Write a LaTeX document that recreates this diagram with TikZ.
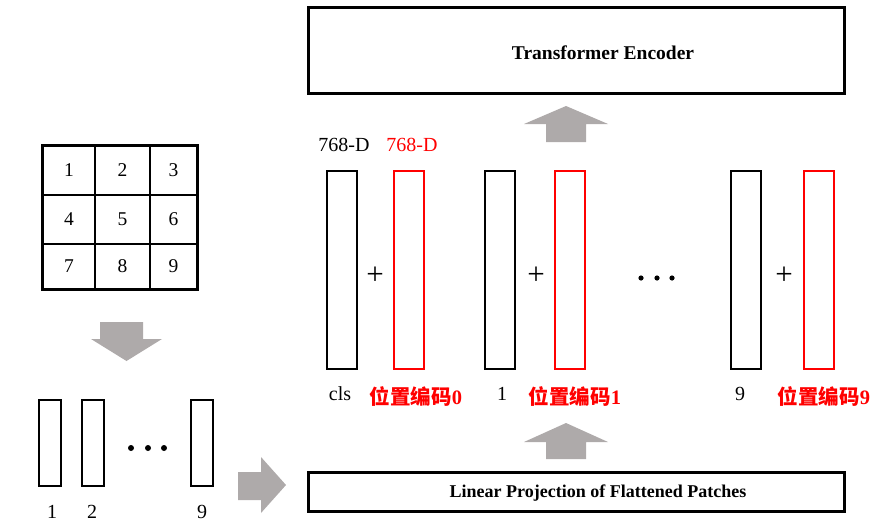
\documentclass[tikz,border=0pt]{standalone}
\usepackage{fontspec}
\setmainfont{Liberation Serif}
\newfontfamily\cjk{Noto Sans CJK SC}
\definecolor{agray}{RGB}{174,170,170}
\definecolor{pred}{RGB}{255,0,0}
\begin{document}
\begin{tikzpicture}[x=1pt,y=-1pt,
  bar/.style={draw=black,line width=2.3pt,minimum width=30pt,minimum height=198pt,inner sep=0pt},
  rbar/.style={bar,draw=pred},
  strip/.style={draw=black,line width=2.3pt,minimum width=22pt,minimum height=86pt,inner sep=0pt},
  bigbox/.style={draw=black,line width=2.8pt,inner sep=0pt,minimum width=536pt},
  cell/.style={draw=black,line width=1.9pt,inner sep=0pt,font=\fontsize{19.5}{22}\selectfont},
  txt/.style={font=\fontsize{20}{24}\selectfont,inner sep=0pt},
  rtxt/.style={txt,text=pred},
  ctxt/.style={font=\fontsize{20.5}{24}\selectfont,inner sep=0pt,text=pred},
  btxt/.style={font=\fontsize{19.5}{24}\selectfont\bfseries,inner sep=0pt},
  plustxt/.style={font=\fontsize{31}{34}\selectfont,inner sep=0pt},
  garrow/.style={fill=agray,draw=none},
  dot/.style={fill=black,draw=none}
]
\useasboundingbox (0,0) rectangle (876,525);

% ---- 3x3 grid ----
\node[cell,minimum width=52pt,minimum height=49pt] (g1) at (69,170.5) {1};
\node[cell,minimum width=55pt,minimum height=49pt] (g2) at (122.5,170.5) {2};
\node[cell,minimum width=47pt,minimum height=49pt] (g3) at (173.5,170.5) {3};
\node[cell,minimum width=52pt,minimum height=49pt] (g4) at (69,219.5) {4};
\node[cell,minimum width=55pt,minimum height=49pt] (g5) at (122.5,219.5) {5};
\node[cell,minimum width=47pt,minimum height=49pt] (g6) at (173.5,219.5) {6};
\node[cell,minimum width=52pt,minimum height=45pt] (g7) at (69,266.5) {7};
\node[cell,minimum width=55pt,minimum height=45pt] (g8) at (122.5,266.5) {8};
\node[cell,minimum width=47pt,minimum height=45pt] (g9) at (173.5,266.5) {9};
\draw[line width=2.8pt] (g1.north west) rectangle (g9.south east);

% ---- down arrow ----
\fill[garrow] (100,322) -- (143,322) -- (143,339) -- (162,339) -- (126.5,361)
  -- (91,339) -- (100,339) -- cycle;

% ---- patch strips ----
\node[strip] (s1) at (50,443) {};
\node[strip] (s2) at (93,443) {};
\node[strip] (s9) at (202,443) {};
\fill[dot] (131,448) circle (3) (148,448) circle (3) (164,448) circle (3);
\node[txt] (n1) at (52,512) {1};
\node[txt] (n2) at (92,512) {2};
\node[txt] (n9) at (202,512) {9};

% ---- right arrow ----
\fill[garrow] (238,472) -- (261,472) -- (261,457) -- (286,485) -- (261,513)
  -- (261,500) -- (238,500) -- cycle;

% ---- linear projection box ----
\node[bigbox,minimum height=39pt] (lin) at (576.5,492) {};
\node[font=\fontsize{18}{22}\selectfont\bfseries,inner sep=0pt] (lintxt) at (598,493)
  {Linear Projection of Flattened Patches};

% ---- up arrow (bottom) ----
\fill[garrow] (546,459) -- (546,442) -- (524,442) -- (566,423) -- (608,442)
  -- (586,442) -- (586,459) -- cycle;

% ---- token columns ----
\node[bar]  (c0) at (342,270) {};
\node[rbar] (r0) at (409,270) {};
\node[bar]  (c1) at (500,270) {};
\node[rbar] (r1) at (570,270) {};
\node[bar]  (c9) at (746,270) {};
\node[rbar] (r9) at (819,270) {};

\node[plustxt] (p0) at (375,276) {+};
\node[plustxt] (p1) at (536,276) {+};
\node[plustxt] (p9) at (784,276) {+};
\fill[dot] (641,278) circle (2.6) (657,278) circle (2.6) (672,278) circle (2.6);

\node[txt]  (d0) at (344,145) {768-D};
\node[rtxt] (d1) at (412,145) {768-D};

\node[txt] (lc) at (340,394) {cls};
\node[ctxt] (lr0) at (416,396) {{\cjk\bfseries 位置编码}\textbf{0}};
\node[txt] (l1) at (502,394) {1};
\node[ctxt] (lr1) at (575,396) {{\cjk\bfseries 位置编码}\textbf{1}};
\node[txt] (l9) at (740,394) {9};
\node[ctxt] (lr9) at (824,396) {{\cjk\bfseries 位置编码}\textbf{9}};

% ---- up arrow (top) ----
\fill[garrow] (546,142) -- (546,124) -- (524,124) -- (566,106) -- (608,124)
  -- (586,124) -- (586,142) -- cycle;

% ---- transformer encoder ----
\node[bigbox,minimum height=86pt] (enc) at (576.5,50.5) {};
\node[btxt] (enctxt) at (603,53) {Transformer Encoder};
\end{tikzpicture}
\end{document}
